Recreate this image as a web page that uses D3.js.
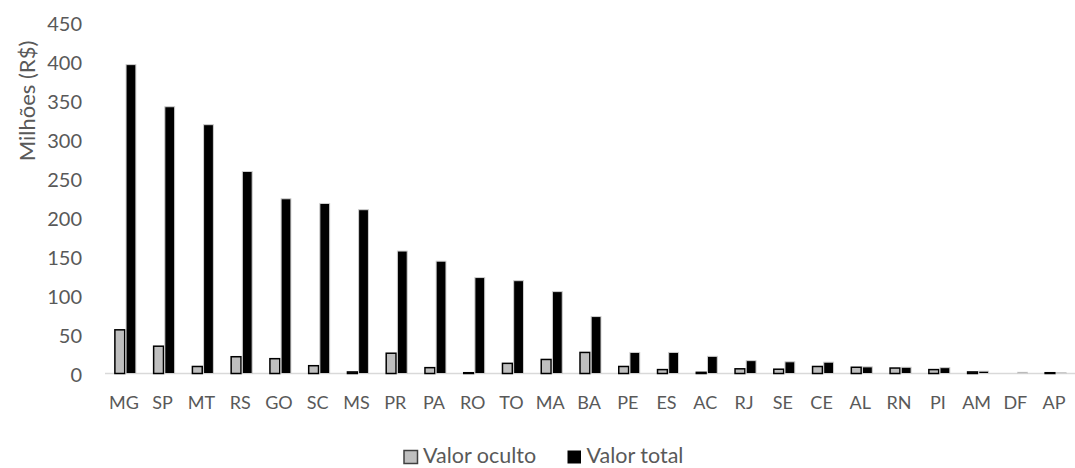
<!DOCTYPE html>
<html>
<head>
<meta charset="utf-8">
<script src="https://cdn.jsdelivr.net/npm/d3@7"></script>
<style>
  html, body { margin: 0; padding: 0; background: #fff; }
  svg { display: block; }
  text { font-family: Lato, "Open Sans", sans-serif; fill: #595959; }
</style>
</head>
<body>
<svg id="chart" width="1075" height="468"></svg>
<script>
const categories = ["MG","SP","MT","RS","GO","SC","MS","PR","PA","RO","TO","MA","BA","PE","ES","AC","RJ","SE","CE","AL","RN","PI","AM","DF","AP"];
const valorOculto = [56, 35, 9, 21.5, 19, 10, 2, 26, 7.5, 1, 13, 18, 27, 9, 5, 1.5, 6, 5.5, 9, 8, 7, 5, 2, 0, 1];
const valorTotal  = [396, 342, 319, 259, 224, 218, 210, 157, 144, 123, 119, 105, 73, 27, 27, 22, 16.5, 15, 14.5, 8.5, 8, 7.5, 3, 1.5, 1];
const yTicks = [0, 50, 100, 150, 200, 250, 300, 350, 400, 450];
const seriesNames = ["Valor oculto", "Valor total"];
const seriesFill = ["#bfbfbf", "#000000"];
const seriesStroke = ["#000000", "#d0d0d0"];

const svg = d3.select("#chart");
const baseY = 373.5, topY = 22.5;
const x = d3.scaleBand().domain(categories).range([106, 1075]);
const y = d3.scaleLinear().domain([0, 450]).range([baseY, topY]);
const sub = d3.scaleBand().domain(seriesNames).range([-10.5, 10.5]).paddingInner(0.12);

// baseline
svg.append("line")
  .attr("x1", 105).attr("x2", 1075)
  .attr("y1", baseY).attr("y2", baseY)
  .attr("stroke", "#d9d9d9").attr("stroke-width", 1.5);

// y axis labels
const yAxis = d3.axisLeft(y).tickValues(yTicks).tickSize(0).tickPadding(0);
const gy = svg.append("g").attr("transform", "translate(82,2)").call(yAxis);
gy.select(".domain").remove();
gy.selectAll("text").style("font-size", "20px").attr("fill", "#595959")
  .style("font-family", "Lato, sans-serif");

// x axis labels
const xAxis = d3.axisBottom(x).tickSize(0).tickPadding(0);
const gx = svg.append("g").attr("transform", "translate(-1.5,396)").call(xAxis);
gx.select(".domain").remove();
gx.selectAll("text").style("font-size", "18px").attr("fill", "#595959")
  .style("font-family", "Lato, sans-serif");

// bars
const data = categories.map((c, i) => ({c, vals: [valorOculto[i], valorTotal[i]]}));
const groups = svg.append("g").selectAll("g").data(data).join("g")
  .attr("transform", d => `translate(${x(d.c) + x.bandwidth() / 2},0)`);
groups.selectAll("rect").data(d => d.vals.map((v, j) => ({v, j})))
  .join("rect")
  .attr("x", d => sub(seriesNames[d.j]))
  .attr("width", sub.bandwidth())
  .attr("y", d => y(d.v))
  .attr("height", d => baseY - y(d.v))
  .attr("fill", d => seriesFill[d.j])
  .attr("stroke", d => seriesStroke[d.j])
  .attr("stroke-width", d => d.j === 0 ? 1.5 : 1);

// y title
svg.append("text")
  .attr("transform", "translate(35,101) rotate(-90)")
  .attr("text-anchor", "middle")
  .style("font-size", "22px")
  .text("Milhões (R$)");

// legend
const legend = svg.append("g");
const legItems = [{x: 404, t: seriesNames[0], j: 0}, {x: 567.5, t: seriesNames[1], j: 1}];
legItems.forEach(it => {
  legend.append("rect").attr("x", it.x).attr("y", 450.5).attr("width", 13.5).attr("height", 13)
    .attr("fill", seriesFill[it.j]).attr("stroke", it.j === 0 ? "#404040" : "none").attr("stroke-width", 1.5);
  legend.append("text").attr("x", it.x + 19).attr("y", 462.5)
    .style("font-size", "21.5px").text(it.t);
});
</script>
</body>
</html>
